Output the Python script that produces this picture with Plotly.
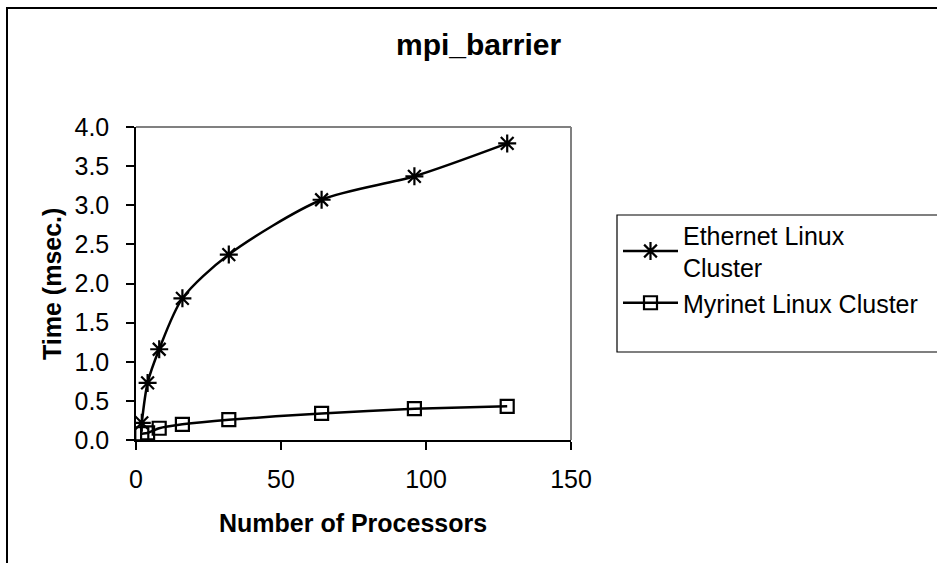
import plotly.graph_objects as go

# ---- data ----
processors = [2, 4, 8, 16, 32, 64, 96, 128]
ethernet_ms = [0.22, 0.73, 1.16, 1.81, 2.37, 3.07, 3.37, 3.79]
myrinet_ms = [0.08, 0.09, 0.15, 0.20, 0.26, 0.34, 0.40, 0.43]
series_names = ["Ethernet Linux<br>Cluster", "Myrinet Linux Cluster"]
x_ticks = [0, 50, 100, 150]
y_ticks = [0, 0.5, 1.0, 1.5, 2.0, 2.5, 3.0, 3.5, 4.0]

W, H = 937, 563
L, R, T, B = 136, 571, 127, 440  # plot area in pixels
FONT = "Liberation Sans, Arial, sans-serif"


def px(p):
    return (p - L) / (R - L)


def py(p):
    return (B - p) / (B - T)


fig = go.Figure()
fig.add_trace(go.Scatter(
    x=processors, y=ethernet_ms, name=series_names[0],
    mode="lines+markers",
    line=dict(color="black", width=2.5, shape="spline", smoothing=0.8),
    marker=dict(symbol="asterisk-open", size=15, color="black",
                line=dict(color="black", width=2.2)),
))
fig.add_trace(go.Scatter(
    x=processors, y=myrinet_ms, name=series_names[1],
    mode="lines+markers",
    line=dict(color="black", width=2.5, shape="spline", smoothing=0.5),
    marker=dict(symbol="square-open", size=13, color="black",
                line=dict(color="black", width=2.2)),
))

axis_font = dict(family=FONT, size=25, color="black")

fig.update_layout(
    width=W, height=H,
    margin=dict(l=L, r=W - R, t=T, b=H - B, pad=0),
    paper_bgcolor="white", plot_bgcolor="white",
    font=dict(family=FONT, color="black"),
    showlegend=True,
    legend=dict(
        x=px(618), y=py(212), xanchor="left", yanchor="top",
        font=dict(family=FONT, size=25, color="black"),
        bgcolor="rgba(0,0,0,0)", borderwidth=0,
        itemwidth=55, tracegroupgap=4,
    ),
    xaxis=dict(
        range=[0, 150], tickvals=x_ticks, ticks="outside", ticklen=8,
        tickwidth=1.5, tickcolor="black", showline=True, linecolor="black",
        linewidth=1.5, showgrid=False, zeroline=False, tickfont=axis_font,
        ticklabelstandoff=8,
    ),
    yaxis=dict(
        range=[0, 4], tickvals=y_ticks, tickformat=".1f", ticks="outside",
        ticklen=8, tickwidth=1.5, tickcolor="black", showline=True,
        linecolor="black", linewidth=1.5, showgrid=False, zeroline=False,
        tickfont=axis_font, ticklabelstandoff=12,
    ),
)

# plot area top/right border (gray)
fig.add_shape(type="line", xref="paper", yref="paper", x0=0, x1=1, y0=1, y1=1,
              line=dict(color="#808080", width=2))
fig.add_shape(type="line", xref="paper", yref="paper", x0=1, x1=1, y0=0, y1=1,
              line=dict(color="#808080", width=2))
# outer chart frame (left and top visible)
fig.add_shape(type="rect", xref="paper", yref="paper",
              x0=px(7), x1=px(960), y0=py(600), y1=py(8),
              line=dict(color="black", width=2), fillcolor="rgba(0,0,0,0)")
# legend box
fig.add_shape(type="rect", xref="paper", yref="paper",
              x0=px(617), x1=px(960), y0=py(352), y1=py(215),
              line=dict(color="black", width=1.2), fillcolor="rgba(0,0,0,0)")

# titles
fig.add_annotation(text="<b>mpi_barrier</b>", xref="paper", yref="paper",
                   x=px(478), y=py(44), xanchor="center", yanchor="middle",
                   showarrow=False, font=dict(family=FONT, size=30, color="black"))
fig.add_annotation(text="<b>Number of Processors</b>", xref="paper", yref="paper",
                   x=px(353), y=py(523), xanchor="center", yanchor="middle",
                   showarrow=False, font=dict(family=FONT, size=25, color="black"))
fig.add_annotation(text="<b>Time (msec.)</b>", xref="paper", yref="paper",
                   x=px(52), y=py(284), xanchor="center", yanchor="middle",
                   textangle=-90, showarrow=False,
                   font=dict(family=FONT, size=25, color="black"))

fig.write_html("out.html")
